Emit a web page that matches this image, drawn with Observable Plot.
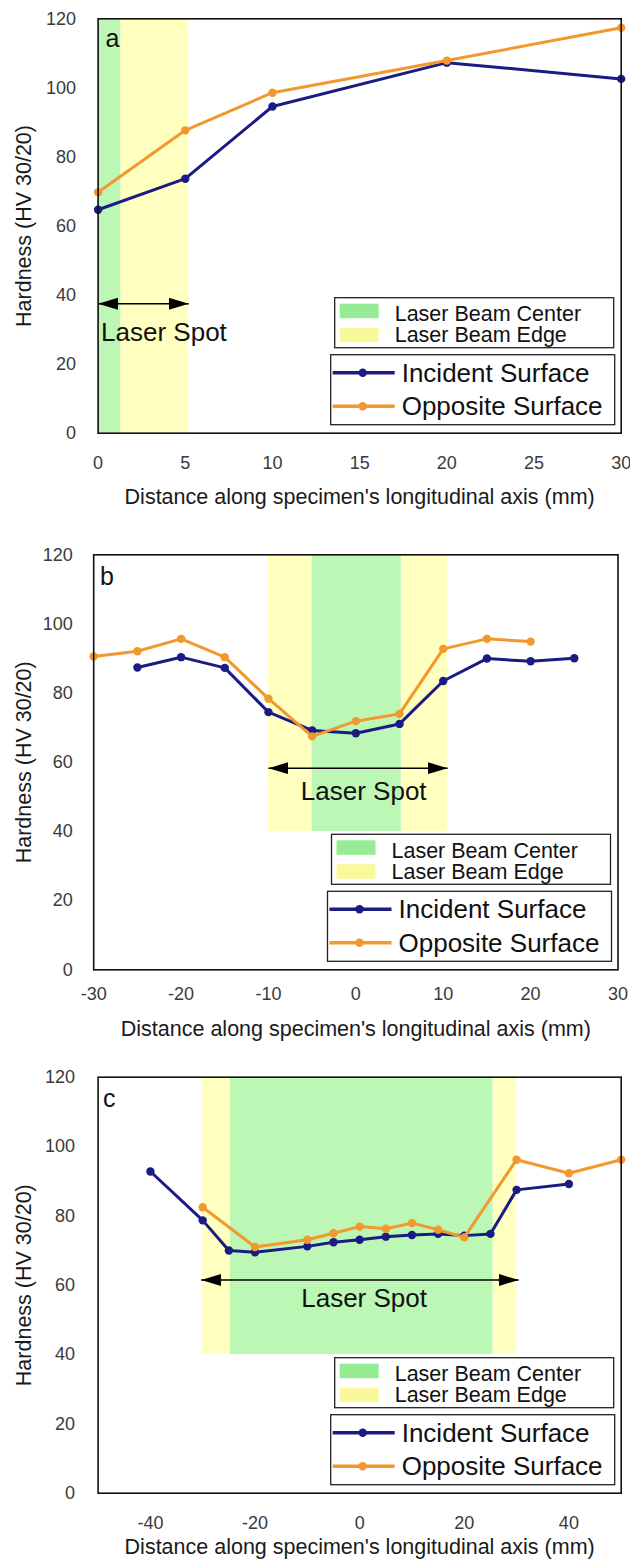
<!DOCTYPE html>
<html>
<head>
<meta charset="utf-8">
<script src="https://cdn.jsdelivr.net/npm/d3@7"></script>
<script src="https://cdn.jsdelivr.net/npm/@observablehq/plot@0.6"></script>
<style>
  body { margin: 0; background: #fff; }
  #chart { width: 630px; }
  #chart svg { display: block; }
</style>
</head>
<body>
<div id="chart"></div>
<script>
// ---------- shared text ----------
const xTitle = "Distance along specimen's longitudinal axis (mm)";
const yTitle = "Hardness (HV 30/20)";
const yTicks = [0, 20, 40, 60, 80, 100, 120];
const seriesNames = ["Incident Surface", "Opposite Surface"];
const bandNames = ["Laser Beam Center", "Laser Beam Edge"];
const spotText = "Laser Spot";

// ---------- panel a ----------
const aTicks = [0, 5, 10, 15, 20, 25, 30];
const aIncX = [0, 5, 10, 20, 30];
const aIncident = [64.7, 73.7, 94.6, 107.3, 102.6];
const aOppX = [0, 5, 10, 20, 30];
const aOpposite = [69.8, 87.7, 98.6, 107.9, 117.4];
const aCenter = [[0, 1.3]];
const aEdge = [[1.3, 5.2]];
const aBandY = [0, 120];
const aSpot = [0, 5.2, 37.5];       // from, to, hardness level
const aSpotLabel = [0, 29];

// ---------- panel b ----------
const bTicks = [-30, -20, -10, 0, 10, 20, 30];
const bIncX = [-25, -20, -15, -10, -5, 0, 5, 10, 15, 20, 25];
const bIncident = [87.4, 90.4, 87.3, 74.5, 69.2, 68.4, 71.1, 83.5, 90.0, 89.2, 90.1];
const bOppX = [-30, -25, -20, -15, -10, -5, 0, 5, 10, 15, 20];
const bOpposite = [90.6, 92.1, 95.7, 90.4, 78.4, 67.5, 71.9, 74.0, 92.8, 95.7, 94.9];
const bCenter = [[-5, 5.2]];
const bEdge = [[-10, -5], [5.2, 10.5]];
const bBandY = [40, 120];
const bSpot = [-10, 10.5, 58.3];
const bSpotLabel = [0.9, 51.4];

// ---------- panel c ----------
const cTicks = [-40, -20, 0, 20, 40];
const cIncX = [-40, -30, -25, -20, -10, -5, 0, 5, 10, 15, 20, 25, 30, 40];
const cIncident = [92.8, 78.7, 70.0, 69.5, 71.2, 72.4, 73.1, 74.0, 74.5, 74.8, 74.3, 74.8, 87.5, 89.2];
const cOppX = [-30, -20, -10, -5, 0, 5, 10, 15, 20, 30, 40, 50];
const cOpposite = [82.5, 71.0, 73.1, 75.0, 76.9, 76.3, 77.9, 76.0, 73.8, 96.2, 92.3, 96.2];
const cCenter = [[-24.7, 25.5]];
const cEdge = [[-30, -24.7], [25.5, 30]];
const cBandY = [40, 120];
const cSpot = [-30.3, 30.4, 61.5];
const cSpotLabel = [0.85, 56];

// ---------- styling ----------
const FONT = "'Liberation Sans', Arial, Helvetica, sans-serif";
const NAVY = "#1b1b84";
const ORANGE = "#f2982c";
const GREEN_BAND = "#bcf7b6";
const YELLOW_BAND = "#ffffc0";
const GREEN_KEY = "#95ec95";
const YELLOW_KEY = "#f9f99c";

function arrowHead() {
  const m = d3.create("svg:marker")
    .attr("viewBox", "0 -6 20 12")
    .attr("markerWidth", 20)
    .attr("markerHeight", 12)
    .attr("refX", 20)
    .attr("refY", 0)
    .attr("markerUnits", "userSpaceOnUse")
    .attr("orient", "auto-start-reverse");
  m.append("path").attr("d", "M0,-6L20,0L0,6Z").attr("fill", "#000").attr("stroke", "none");
  return m.node();
}

function panel(cfg) {
  const inc = cfg.incX.map((x, i) => ({x, y: cfg.incident[i]}));
  const opp = cfg.oppX.map((x, i) => ({x, y: cfg.opposite[i]}));
  const bands = [
    ...cfg.edge.map(([x1, x2]) => ({x1, x2, y1: cfg.bandY[0], y2: cfg.bandY[1], fill: YELLOW_BAND})),
    ...cfg.center.map(([x1, x2]) => ({x1, x2, y1: cfg.bandY[0], y2: cfg.bandY[1], fill: GREEN_BAND}))
  ];
  const spot = [{x1: cfg.spot[0], x2: cfg.spot[1], y: cfg.spot[2]}];
  const spotLab = [{x: cfg.spotLabel[0], y: cfg.spotLabel[1]}];

  const svg = Plot.plot({
    width: 630,
    height: cfg.height,
    marginTop: cfg.mt, marginBottom: cfg.mb, marginLeft: cfg.ml, marginRight: cfg.mr,
    style: {fontFamily: FONT, fontSize: "18px", color: "#3a3a3a", background: "#fff", overflow: "visible"},
    x: {domain: cfg.xDomain, ticks: cfg.ticks, tickSize: 0, tickPadding: cfg.xPad, tickFormat: d => String(d), label: null},
    y: {domain: [0, 120], ticks: yTicks, tickSize: 0, tickPadding: cfg.yPad, label: null},
    marks: [
      Plot.rect(bands, {x1: "x1", x2: "x2", y1: "y1", y2: "y2", fill: "fill"}),
      Plot.link(spot, {x1: "x1", x2: "x2", y1: "y", y2: "y", stroke: "#000", strokeWidth: 1.6,
        markerStart: arrowHead, markerEnd: arrowHead}),
      Plot.text(spotLab, {x: "x", y: "y", text: () => spotText, fontSize: 26, fill: "#111",
        textAnchor: cfg.spotAnchor, lineAnchor: "middle", dx: cfg.spotAnchor === "start" ? 3 : 0}),
      Plot.line(inc, {x: "x", y: "y", stroke: NAVY, strokeWidth: 3}),
      Plot.dot(inc, {x: "x", y: "y", fill: NAVY, r: 4.2}),
      Plot.line(opp, {x: "x", y: "y", stroke: ORANGE, strokeWidth: 3}),
      Plot.dot(opp, {x: "x", y: "y", fill: ORANGE, r: 4.2}),
      Plot.frame({stroke: "#111", strokeWidth: 1.6}),
      Plot.text([cfg.letter], {frameAnchor: "top-left", dx: cfg.letterDx, dy: cfg.letterDy,
        textAnchor: "start", lineAnchor: "middle", fontSize: 25, fill: "#111"}),
      Plot.text([xTitle], {frameAnchor: "bottom", dy: cfg.xTitleDy, textAnchor: "middle", lineAnchor: "middle",
        fontSize: 21.5, fill: "#1a1a1a"}),
      Plot.text([yTitle], {frameAnchor: "left", dx: cfg.yTitleDx, rotate: -90, textAnchor: "middle", lineAnchor: "middle",
        fontSize: 21.5, fill: "#1a1a1a"})
    ]
  });

  // legend boxes anchored to the frame's lower-right corner
  const R = 630 - cfg.mr;
  const B = cfg.height - cfg.mb;
  const g = d3.select(svg).append("g").attr("font-family", FONT).attr("text-anchor", "start");

  // series legend (lower box)
  const w2 = 284, h2 = 70;
  const x2 = R - 6 - w2, y2 = B - 8 - h2;
  g.append("rect").attr("x", x2).attr("y", y2).attr("width", w2).attr("height", h2)
    .attr("fill", "#fff").attr("stroke", "#222").attr("stroke-width", 1.3);
  [[NAVY, seriesNames[0], 18], [ORANGE, seriesNames[1], 51.5]].forEach(([col, name, dy]) => {
    g.append("line").attr("x1", x2 + 2).attr("x2", x2 + 64).attr("y1", y2 + dy).attr("y2", y2 + dy)
      .attr("stroke", col).attr("stroke-width", 3.4);
    g.append("circle").attr("cx", x2 + 32).attr("cy", y2 + dy).attr("r", 4.2).attr("fill", col);
    g.append("text").attr("x", x2 + 71).attr("y", y2 + dy).attr("dy", "0.35em")
      .attr("text-anchor", "start").attr("font-size", 26).attr("fill", "#111").text(name);
  });

  // band legend (upper box)
  const w1 = 279, h1 = 50;
  const x1 = x2 + 4, y1 = y2 - 7 - h1;
  g.append("rect").attr("x", x1).attr("y", y1).attr("width", w1).attr("height", h1)
    .attr("fill", "#fff").attr("stroke", "#222").attr("stroke-width", 1.3);
  [[GREEN_KEY, bandNames[0], 6, 15.7], [YELLOW_KEY, bandNames[1], 30, 36.7]].forEach(([col, name, sy, ty]) => {
    g.append("rect").attr("x", x1 + 5).attr("y", y1 + sy).attr("width", 39).attr("height", 14.5).attr("fill", col);
    g.append("text").attr("x", x1 + 60).attr("y", y1 + ty).attr("dy", "0.35em")
      .attr("text-anchor", "start").attr("font-size", 21.5).attr("fill", "#111").text(name);
  });
  return svg;
}

const root = document.getElementById("chart");
root.appendChild(panel({
  letter: "a", height: 515, mt: 18.3, mb: 82.3, ml: 97.6, mr: 9.3,
  xDomain: [0, 30], ticks: aTicks, xPad: 23.5, yPad: 22,
  incX: aIncX, incident: aIncident, oppX: aOppX, opposite: aOpposite,
  center: aCenter, edge: aEdge, bandY: aBandY,
  spot: aSpot, spotLabel: aSpotLabel, spotAnchor: "start",
  letterDx: 7.5, letterDy: 20.5, xTitleDy: 64, yTitleDx: -73.6
}));
root.appendChild(panel({
  letter: "b", height: 530, mt: 39.3, mb: 75.7, ml: 93.2, mr: 12.5,
  xDomain: [-30, 30], ticks: bTicks, xPad: 17.6, yPad: 21,
  incX: bIncX, incident: bIncident, oppX: bOppX, opposite: bOpposite,
  center: bCenter, edge: bEdge, bandY: bBandY,
  spot: bSpot, spotLabel: bSpotLabel, spotAnchor: "middle",
  letterDx: 6.4, letterDy: 22.4, xTitleDy: 59, yTitleDx: -69.2
}));
root.appendChild(panel({
  letter: "c", height: 517, mt: 31.7, mb: 69.3, ml: 97.6, mr: 9.3,
  xDomain: [-50, 50], ticks: cTicks, xPad: 22.6, yPad: 23,
  incX: cIncX, incident: cIncident, oppX: cOppX, opposite: cOpposite,
  center: cCenter, edge: cEdge, bandY: cBandY,
  spot: cSpot, spotLabel: cSpotLabel, spotAnchor: "middle",
  letterDx: 4.8, letterDy: 21.7, xTitleDy: 54.3, yTitleDx: -73.6
}));
</script>
</body>
</html>
